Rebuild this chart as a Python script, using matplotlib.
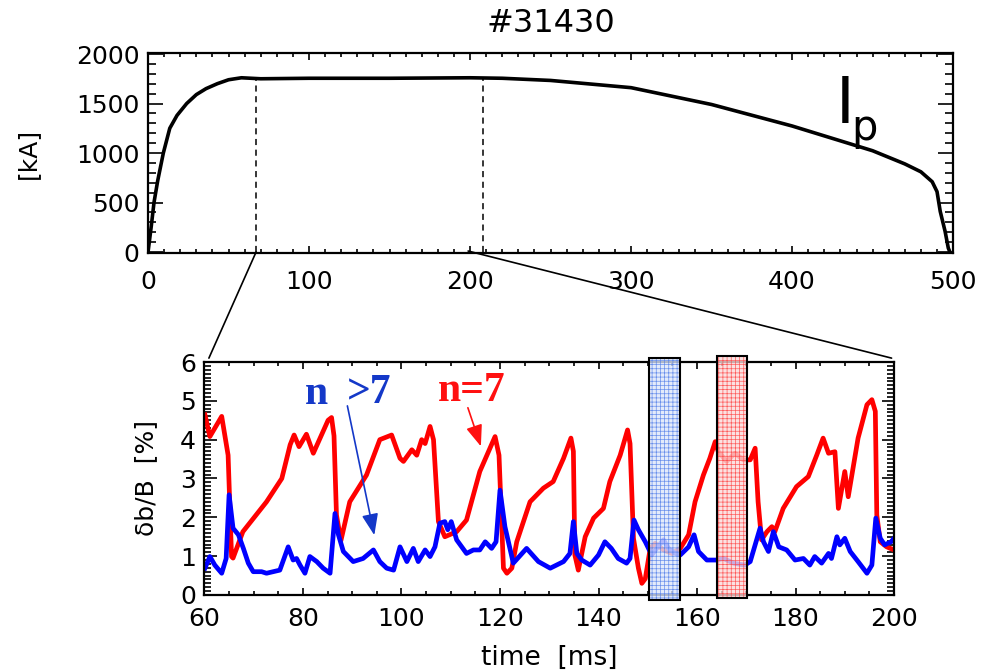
import numpy as np
import matplotlib
matplotlib.use("Agg")
import matplotlib.pyplot as plt
from matplotlib.patches import Rectangle, ConnectionPatch
from matplotlib.ticker import MultipleLocator

# ── data (shot #31430) ───────────────────────────────────────────────────────
ip_t = [0, 1, 2, 3.7, 6, 9.5, 13.5, 18, 24, 30, 36, 43, 50, 58, 70,
        100, 150, 200, 220, 250, 300, 350, 400, 430, 450, 470, 480, 487, 490,
        492, 495, 497, 498]
ip_ka = [0, 130, 260, 500, 720, 1000, 1250, 1380, 1500, 1590, 1650, 1700, 1740,
         1760, 1750, 1755, 1755, 1760, 1755, 1733, 1660, 1490, 1273, 1123,
         1023, 890, 810, 710, 610, 410, 210, 40, 0]

t_n7 = [60.1, 61.1, 63.5, 64.8, 65.5, 65.8, 67.8, 72.6, 75.7, 77.4, 78.2, 79.2,
        80.7, 82.1, 85.1, 85.8, 86.3, 86.8, 87.7, 89.5, 92.9, 95.6, 98.0, 99.7,
        100.4, 102.1, 103.1, 104.1, 104.8, 105.8, 106.5, 107.5, 108.8, 111.2,
        113.2, 115.9, 119.0, 119.8, 120.7, 121.4, 122.4, 123.4, 126.1, 128.8,
        130.8, 132.9, 134.4, 134.9, 135.2, 135.9, 137.3, 139.0, 141.0, 142.3,
        144.4, 145.9, 146.4, 147.1, 148.1, 148.8, 149.5, 150.5, 151.5, 153.2,
        154.9, 156.6, 158.3, 159.6, 161.3, 162.6, 163.7, 164.3, 166.0, 167.7,
        169.4, 170.8, 171.8, 172.4, 173.1, 174.2, 175.2, 175.8, 177.5, 180.2,
        182.6, 184.3, 185.6, 186.7, 188.0, 188.7, 190.0, 190.7, 192.7, 194.5,
        195.5, 196.2, 196.5, 197.2, 198.5, 200.0]
db_n7 = [4.64, 4.08, 4.6, 3.6, 0.99, 0.95, 1.63, 2.4, 3.0, 3.87, 4.12, 3.82,
         4.14, 3.65, 4.5, 4.57, 4.1, 2.06, 1.4, 2.4, 3.09, 4.0, 4.12, 3.52,
         3.44, 3.74, 3.6, 4.0, 3.9, 4.34, 4.0, 1.89, 1.5, 1.63, 1.93, 3.18,
         4.08, 3.6, 0.69, 0.56, 0.69, 1.37, 2.4, 2.75, 2.92, 3.52, 4.04, 3.7,
         1.03, 0.64, 1.5, 1.98, 2.23, 2.92, 3.6, 4.25, 3.9, 1.46, 0.69, 0.3,
         0.42, 1.2, 1.33, 1.16, 1.07, 1.2, 1.55, 2.4, 3.09, 3.52, 3.95, 3.7,
         3.44, 3.65, 3.48, 3.48, 3.78, 2.4, 1.42, 1.63, 1.76, 1.63, 2.23, 2.79,
         3.05, 3.6, 4.04, 3.65, 3.69, 2.23, 3.18, 2.53, 4.04, 4.9, 5.03, 4.73,
         2.06, 1.37, 1.24, 1.16]

t_nhi = [60.1, 61.1, 62.1, 63.5, 64.4, 65.0, 65.8, 66.9, 67.9, 68.9, 69.9,
         71.6, 72.6, 75.3, 77.0, 78.0, 78.7, 79.4, 80.4, 81.4, 82.8, 84.1, 85.5,
         86.5, 87.2, 88.2, 90.2, 92.2, 94.3, 95.6, 97.0, 98.4, 99.7, 101.1,
         102.4, 103.4, 104.8, 105.8, 106.8, 107.8, 108.8, 109.4, 110.1, 111.2,
         113.2, 114.6, 115.9, 117.0, 118.3, 119.2, 120.0, 121.0, 122.7, 125.4,
         127.8, 130.2, 132.9, 134.2, 134.9, 135.6, 136.6, 138.3, 140.0, 141.3,
         142.6, 144.0, 145.7, 146.4, 147.2, 148.1, 149.5, 150.8, 151.8, 153.2,
         154.2, 155.6, 156.6, 158.3, 159.4, 160.3, 162.0, 164.0, 165.4, 167.4,
         169.7, 170.8, 171.8, 172.8, 173.5, 174.5, 175.5, 176.6, 178.2, 179.9,
         181.6, 182.9, 183.9, 185.3, 186.7, 187.3, 188.4, 189.0, 190.0, 191.1,
         192.7, 194.5, 195.5, 196.3, 197.2, 198.1, 199.4, 200.0]
db_nhi = [0.69, 0.99, 0.77, 0.56, 0.94, 2.58, 1.72, 1.55, 1.2, 0.82, 0.6, 0.6,
          0.56, 0.64, 1.24, 0.9, 0.94, 0.77, 0.56, 0.99, 0.86, 0.69, 0.56, 2.1,
          1.55, 1.12, 0.86, 0.94, 1.16, 0.86, 0.69, 0.64, 1.24, 0.86, 1.2, 0.86,
          1.16, 0.99, 1.24, 1.85, 1.89, 1.68, 1.89, 1.42, 1.07, 1.16, 1.16,
          1.37, 1.2, 1.37, 2.7, 1.76, 0.82, 1.2, 0.86, 0.69, 0.86, 1.07, 1.89,
          1.07, 0.9, 0.77, 1.03, 1.37, 1.2, 0.94, 0.82, 0.94, 1.93, 1.68, 1.37,
          1.03, 1.2, 1.42, 1.2, 1.07, 1.03, 1.24, 1.55, 1.12, 0.9, 0.9, 0.94,
          0.82, 0.77, 0.86, 1.29, 1.72, 1.37, 1.12, 1.63, 1.24, 1.16, 0.9, 0.94,
          0.77, 0.99, 0.82, 1.07, 0.94, 1.5, 1.29, 1.46, 1.12, 0.86, 0.56, 0.77,
          1.98, 1.46, 1.29, 1.37, 1.46]

zoom_window = [67.1, 208.0]          # dashed markers on the Ip trace
blue_box = [150.2, 156.5]
red_box = [164.1, 170.2]

plt.rcParams["font.family"] = ["DejaVu Sans"]
plt.rcParams["hatch.linewidth"] = 0.5

fig = plt.figure(figsize=(9.83, 6.72), dpi=100)
ax1 = fig.add_axes([0.1506, 0.6235, 0.819, 0.2976])
ax2 = fig.add_axes([0.208, 0.1146, 0.7015, 0.3467])


def style_axes(ax, xmaj, xmin, ymaj, ymin, ylen_maj, ylen_min, xpad):
    for s in ax.spines.values():
        s.set_linewidth(1.6)
    ax.xaxis.set_major_locator(MultipleLocator(xmaj))
    ax.xaxis.set_minor_locator(MultipleLocator(xmin))
    ax.yaxis.set_major_locator(MultipleLocator(ymaj))
    ax.yaxis.set_minor_locator(MultipleLocator(ymin))
    ax.tick_params(which="both", direction="in", top=True, right=True,
                   labelsize=18, width=1.2)
    ax.tick_params(axis="x", which="major", length=5, pad=xpad)
    ax.tick_params(axis="x", which="minor", length=3)
    ax.tick_params(axis="y", which="major", length=ylen_maj, pad=6)
    ax.tick_params(axis="y", which="minor", length=ylen_min)


# ── top: plasma current ──────────────────────────────────────────────────────
ax1.plot(ip_t, ip_ka, color="black", lw=2.6)
for xv in zoom_window:
    ax1.vlines(xv, 0, 1745, colors="black", lw=1.1, linestyles=(0, (4, 3)))
ax1.set_xlim(0, 500)
ax1.set_ylim(-10, 2010)
style_axes(ax1, 100, 10, 500, 100, 11, 6, 12)
ax1.set_ylabel("[kA]", fontsize=18, labelpad=26)
ax1.set_title("#31430", fontsize=23, pad=15)
ax1.text(433, 1480, "I", fontsize=46, ha="center", va="center")
ax1.text(445, 1250, "p", fontsize=30, ha="center", va="center")

# ── bottom: fluctuation amplitudes ───────────────────────────────────────────
ax2.plot(t_n7, db_n7, color="#ff0000", lw=3.4, solid_joinstyle="round")
ax2.plot(t_nhi, db_nhi, color="#0000ff", lw=3.4, solid_joinstyle="round")
ax2.set_xlim(60, 200)
ax2.set_ylim(0, 6)
style_axes(ax2, 20, 5, 1, 0.1, 9, 5, 9)
ax2.set_xlabel("time  [ms]", fontsize=19, labelpad=10)
ax2.set_ylabel("δb/B  [%]", fontsize=18, labelpad=16)

for (x0, x1), fc, hc, y0, y1 in [(blue_box, "#dce6fa", "#4a78e8", -0.13, 6.11),
                                  (red_box, "#fadada", "#ff3a3a", -0.08, 6.16)]:
    ax2.add_patch(Rectangle((x0, y0), x1 - x0, y1 - y0, facecolor=fc,
                            edgecolor=hc, hatch="++++", lw=0, alpha=0.8,
                            zorder=4, clip_on=False))
    ax2.add_patch(Rectangle((x0, y0), x1 - x0, y1 - y0, facecolor="none",
                            edgecolor="black", lw=1.5, zorder=5, clip_on=False))

ax2.text(82.8, 5.18, "n", color="#1438c8", fontsize=30, fontweight="bold",
         family="Liberation Serif", ha="center", va="center")
ax2.text(93.5, 5.2, ">7", color="#1438c8", fontsize=30, fontweight="bold",
         family="Liberation Serif", ha="center", va="center")
ax2.text(114.2, 5.26, "n=7", color="#ff1010", fontsize=30, fontweight="bold",
         family="Liberation Serif", ha="center", va="center")
ax2.annotate("", xy=(94.6, 1.47), xytext=(88.9, 4.94),
             arrowprops=dict(arrowstyle="-|>,head_length=1.3,head_width=0.5",
                             color="#1438c8", lw=1.2))
ax2.annotate("", xy=(116.3, 3.76), xytext=(113.3, 4.89),
             arrowprops=dict(arrowstyle="-|>,head_length=1.3,head_width=0.5",
                             color="#ff1010", lw=1.2))

# zoom lines linking the two panels
for xa, ya, xb in [(zoom_window[0], 0, 60.9), (198.8, 10, 199.5)]:
    con = ConnectionPatch(xyA=(xa, ya), coordsA=ax1.transData,
                          xyB=(xb, 6.1), coordsB=ax2.transData,
                          color="black", lw=1.2)
    fig.add_artist(con)

fig.savefig("out.png", dpi=100)
